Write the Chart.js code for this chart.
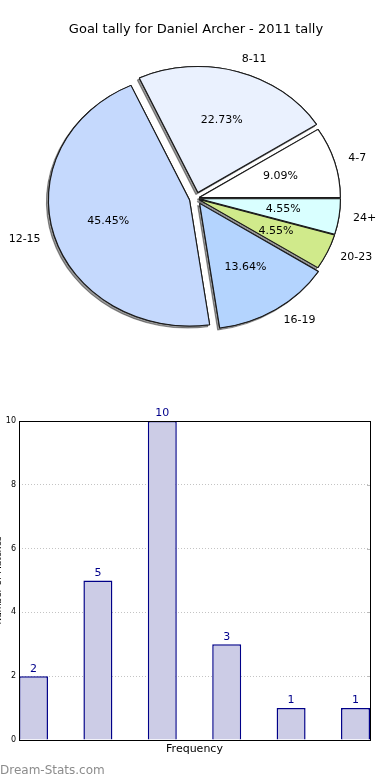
<!DOCTYPE html>
<html>
<head>
<meta charset="utf-8">
<script src="https://cdn.jsdelivr.net/npm/chart.js@4.4.0/dist/chart.umd.min.js"></script>
<style>
    html, body { margin: 0; padding: 0; background: #fff; }
    body { width: 390px; height: 780px; position: relative; overflow: hidden; font-family: 'DejaVu Sans', sans-serif; }
    #pieChart { position: absolute; left: 0; top: 0; }
    #barChart { position: absolute; left: 0; top: 380px; }
    .watermark { position: absolute; left: 0; top: 763px; font-size: 12px; color: #8c8c8c; }
</style>
</head>
<body>
<canvas id="pieChart" width="390" height="380"></canvas>
<canvas id="barChart" width="390" height="400"></canvas>
<div class="watermark">Dream-Stats.com</div>
<script>
const pieTitle = 'Goal tally for Daniel Archer - 2011 tally';
const tallyRanges = ['4-7', '8-11', '12-15', '16-19', '20-23', '24+'];
const matchCounts = [2, 5, 10, 3, 1, 1];
const yTickValues = [0, 2, 4, 6, 8, 10];

// styling, kept apart from the data
const sliceColors = ['#ffffff', '#eaf1fe', '#c5d9fd', '#b4d4fe', '#d0ea8b', '#d9ffff'];
const sliceOffsets = [3, 6, 6, 6, 3, 3];   // px the slice is pulled out
const stretchX = 1.12;   // the original pie is an ellipse
const barWidth = 0.45;

Chart.defaults.font.family = "'DejaVu Sans', sans-serif";
Chart.defaults.color = '#000';

// pie is drawn counter-clockwise from 3 o'clock, chart.js goes clockwise -> reverse
const rev = arr => arr.slice().reverse();
const drawnOffsets = rev(sliceOffsets);
const total = matchCounts.reduce((s, v) => s + v, 0);

// arc.draw() also grows the radius when using the built-in offset,
// so the explode is done here with a plain translate instead
function placeArc(ctx, a, i) {
    const mid = (a.startAngle + a.endAngle) / 2;
    const off = drawnOffsets[i];
    ctx.translate(a.x, a.y);
    ctx.scale(stretchX, 1);
    ctx.translate(-a.x + off * Math.cos(mid), -a.y + off * Math.sin(mid));
}

const pieDecor = {
    id: 'pieDecor',
    beforeDatasetDraw(chart) {
        const ctx = chart.ctx;
        const arcs = chart.getDatasetMeta(0).data;
        // shadows under everything
        arcs.forEach((a, i) => {
            ctx.save();
            placeArc(ctx, a, i);
            ctx.shadowColor = 'rgba(0,0,0,0.4)';
            ctx.shadowOffsetX = -2;
            ctx.shadowOffsetY = 2;
            a.draw(ctx);
            ctx.restore();
        });
        arcs.forEach((a, i) => {
            ctx.save();
            placeArc(ctx, a, i);
            a.draw(ctx);
            ctx.restore();
        });
        return false;
    },
    afterDatasetsDraw(chart) {
        const ctx = chart.ctx;
        const arcs = chart.getDatasetMeta(0).data;
        const labels = chart.data.labels;
        const values = chart.data.datasets[0].data;
        ctx.save();
        ctx.font = "11px 'DejaVu Sans'";
        ctx.fillStyle = '#000';
        ctx.textBaseline = 'middle';
        arcs.forEach((a, i) => {
            const mid = (a.startAngle + a.endAngle) / 2;
            const off = drawnOffsets[i];
            const r = a.outerRadius;
            const px = f => a.x + stretchX * (off + f * r) * Math.cos(mid);
            const py = f => a.y + (off + f * r) * Math.sin(mid);
            ctx.textAlign = 'center';
            ctx.fillText((values[i] / total * 100).toFixed(2) + '%', px(0.6), py(0.6));
            const lx = px(1.1);
            ctx.textAlign = lx > a.x ? 'left' : 'right';
            ctx.fillText(labels[i], lx, py(1.1));
        });
        ctx.restore();
    }
};

new Chart(document.getElementById('pieChart'), {
    type: 'pie',
    data: {
        labels: rev(tallyRanges),
        datasets: [{
            data: rev(matchCounts),
            backgroundColor: rev(sliceColors),
            borderColor: '#1a1a1a',
            borderWidth: 1,
            clip: false
        }]
    },
    options: {
        responsive: false,
        animation: false,
        rotation: 90,
        radius: 126,
        layout: { padding: { left: 2, right: 0, top: 0, bottom: 21 } },
        plugins: {
            legend: { display: false },
            tooltip: { enabled: false },
            title: {
                display: true,
                text: pieTitle,
                font: { size: 13, weight: 'normal' },
                color: '#000',
                padding: { top: 22, bottom: 0 }
            }
        }
    },
    plugins: [pieDecor]
});

const barDecor = {
    id: 'barDecor',
    afterDatasetsDraw(chart) {
        const ctx = chart.ctx;
        const area = chart.chartArea;
        const yScale = chart.scales.y;
        ctx.save();
        // tick stubs on the right edge
        ctx.strokeStyle = '#bbbbbb';
        ctx.lineWidth = 1;
        yTickValues.forEach(v => {
            const y = Math.round(yScale.getPixelForValue(v)) + 0.5;
            ctx.beginPath();
            ctx.moveTo(area.right - 3, y);
            ctx.lineTo(area.right, y);
            ctx.stroke();
        });
        // frame
        ctx.strokeStyle = '#000';
        ctx.strokeRect(Math.round(area.left) + 0.5, Math.round(area.top) + 0.5,
            Math.round(area.right - area.left), Math.round(area.bottom - area.top));
        // value labels
        ctx.font = "11px 'DejaVu Sans'";
        ctx.fillStyle = '#00008b';
        ctx.textAlign = 'center';
        ctx.textBaseline = 'bottom';
        chart.getDatasetMeta(0).data.forEach((bar, i) => {
            ctx.fillText(String(matchCounts[i]), bar.x, bar.y - 2);
        });
        ctx.restore();
    }
};

new Chart(document.getElementById('barChart'), {
    type: 'bar',
    data: {
        datasets: [{
            data: matchCounts.map((v, i) => ({ x: i + barWidth / 2, y: v })),
            backgroundColor: '#ccccE6',
            borderColor: '#000088',
            borderWidth: 1.5,
            barPercentage: barWidth,
            categoryPercentage: 1
        }]
    },
    options: {
        responsive: false,
        animation: false,
        layout: { padding: { top: 41, right: 20, left: 0, bottom: 0 } },
        plugins: {
            legend: { display: false },
            tooltip: { enabled: false }
        },
        scales: {
            x: {
                type: 'linear',
                min: 0,
                max: matchCounts.length - 1 + barWidth,
                offset: false,
                ticks: { display: false },
                grid: { display: false, drawTicks: false, offset: false },
                border: { display: false },
                title: {
                    display: true,
                    text: 'Frequency',
                    font: { size: 11 },
                    color: '#000',
                    padding: { top: 0, bottom: 24 }
                },
                afterFit: s => { s.height = 40; }
            },
            y: {
                min: 0,
                max: 10,
                afterBuildTicks: s => { s.ticks = yTickValues.map(v => ({ value: v })); },
                ticks: { font: { size: 8 }, color: '#000', padding: 3 },
                grid: { color: '#c4c4c4', drawTicks: false },
                border: { display: false, dash: [1, 2] },
                title: {
                    display: true,
                    text: 'Number of Matches',
                    font: { size: 9 },
                    color: '#000',
                    padding: { top: -7, bottom: 0 }
                },
                afterFit: s => { s.width = 19; }
            }
        }
    },
    plugins: [barDecor]
});
</script>
</body>
</html>
